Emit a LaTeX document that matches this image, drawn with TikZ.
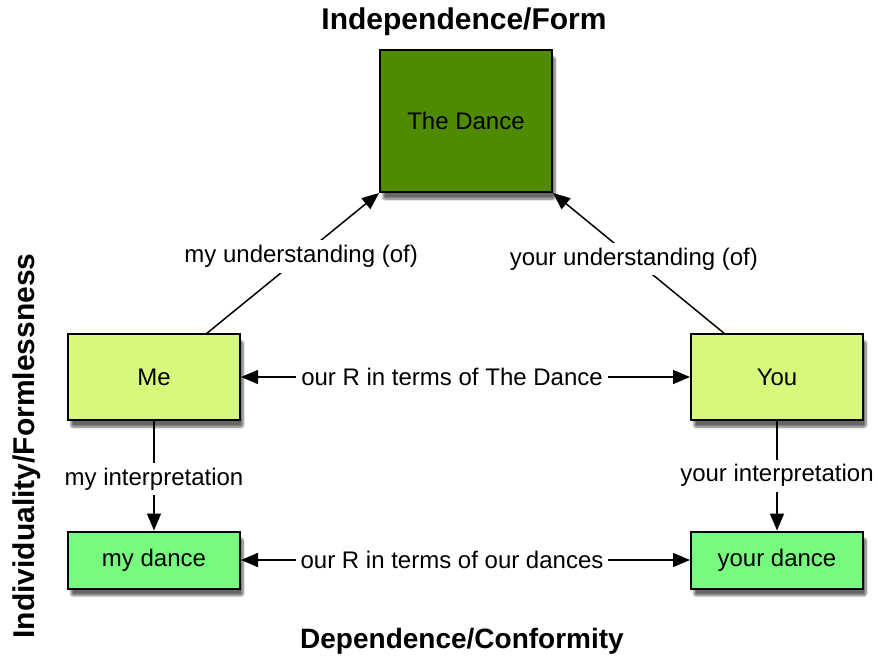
\documentclass[tikz,border=0pt]{standalone}
\usepackage{fontspec}
\setmainfont{Liberation Sans}
\usetikzlibrary{arrows.meta,shadows.blur}
\definecolor{dancegreen}{HTML}{4E8B00}
\definecolor{personcol}{HTML}{D6F97B}
\definecolor{dancecol}{HTML}{77FA7D}
\tikzset{
  box/.style={draw=black, line width=2pt, inner sep=0pt, font=\fontsize{24}{28}\selectfont,
    blur shadow={shadow xshift=3pt, shadow yshift=-7pt, shadow blur steps=8, shadow blur extra rounding=2pt, shadow opacity=60}},
  conn/.style={line width=1.5pt, -{Triangle[length=17pt,width=14pt]}},
  biconn/.style={line width=1.5pt, {Triangle[length=17pt,width=14pt]}-{Triangle[length=17pt,width=14pt]}},
  lbl/.style={fill=white, inner sep=5pt, font=\fontsize{24}{28}\selectfont},
  title/.style={font=\fontsize{30}{36}\selectfont\bfseries}
}
\begin{document}
\begin{tikzpicture}[x=1pt,y=-1pt]
\useasboundingbox (0,0) rectangle (878,664);
\node[box, fill=dancegreen, minimum width=172pt, minimum height=142pt] (dance) at (466,121) {The Dance};
\node[box, fill=personcol, minimum width=172pt, minimum height=86pt] (me) at (154,377) {Me};
\node[box, fill=personcol, minimum width=172pt, minimum height=86pt] (you) at (777,377) {You};
\node[box, fill=dancecol, minimum width=172pt, minimum height=57pt] (mydance) at (154,560) {my dance};
\node[box, fill=dancecol, minimum width=172pt, minimum height=57pt] (yourdance) at (777,560) {your dance};

\node[title] (top) at (464,22) {Independence/Form};
\node[title, font=\fontsize{28}{34}\selectfont\bfseries] (bottom) at (462,641) {Dependence/Conformity};
\node[title, rotate=90] (side) at (27,446) {Individuality/Formlessness};

\coordinate (meTop) at (206,334);
\coordinate (youTop) at (725,334);
\draw[conn] (meTop) -- node[lbl, pos=0.55] (l1) {my understanding (of)} (dance.south west);
\draw[conn] (youTop) -- node[lbl, pos=0.53] (l2) {your understanding (of)} (dance.south east);
\draw[biconn] (me.east) -- node[lbl, pos=0.47] (l3) {our R in terms of The Dance} (you.west);
\draw[biconn] (mydance.east) -- node[lbl, pos=0.47] (l4) {our R in terms of our dances} (yourdance.west);
\draw[conn] (me.south) -- node[lbl, pos=0.53] (l5) {my interpretation} (mydance.north);
\draw[conn] (you.south) -- node[lbl, pos=0.5] (l6) {your interpretation} (yourdance.north);
\end{tikzpicture}
\end{document}
